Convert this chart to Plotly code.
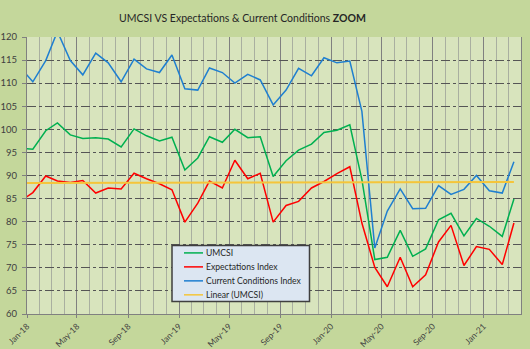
import plotly.graph_objects as go
import pandas as pd

# ---------------- data ----------------
months = pd.period_range("2017-12", "2021-03", freq="M")

umcsi = [95.9,
         95.7, 99.7, 101.4, 98.8, 98.0, 98.2, 97.9, 96.2, 100.1, 98.6, 97.5, 98.3,
         91.2, 93.8, 98.4, 97.2, 100.0, 98.2, 98.4, 89.8, 93.2, 95.5, 96.8, 99.3,
         99.8, 101.0, 89.1, 71.8, 72.3, 78.1, 72.5, 74.1, 80.4, 81.8, 76.9, 80.7,
         79.0, 76.8, 84.9]

expectations = [84.4,
                86.3, 89.9, 88.8, 88.5, 88.9, 86.2, 87.3, 87.1, 90.5, 89.3, 88.2, 86.9,
                79.9, 84.0, 88.8, 87.3, 93.3, 89.3, 90.5, 79.9, 83.5, 84.4, 87.3, 88.7,
                90.4, 91.9, 79.7, 70.1, 65.9, 72.3, 65.9, 68.5, 75.6, 79.2, 70.5, 74.6,
                74.0, 70.7, 79.7]

current = [113.5,
           110.3, 114.9, 121.2, 114.9, 111.8, 116.5, 114.4, 110.3, 115.2, 113.1, 112.3, 116.1,
           108.8, 108.5, 113.3, 112.3, 110.0, 111.9, 110.7, 105.3, 108.5, 113.2, 111.6, 115.5,
           114.4, 114.8, 103.9, 74.3, 82.3, 87.1, 82.8, 82.9, 87.8, 85.9, 87.0, 90.0,
           86.7, 86.2, 93.0]

trend_umcsi = [88.35, 88.6]

names = ["UMCSI", "Expectations Index", "Current Conditions Index", "Linear (UMCSI)"]
colors = ["#00B050", "#FF0000", "#1F7FD0", "#F5C53A"]

# ---------------- figure ----------------
W, H = 530, 349
L, R, T, B = 27, 521, 37, 314.5
FONT = "Lato"

x = months.to_timestamp() + pd.Timedelta(days=14)

fig = go.Figure()
fig.add_trace(go.Scatter(x=x, y=umcsi, mode="lines", name=names[0],
                         line=dict(color=colors[0], width=1.5), showlegend=False))
fig.add_trace(go.Scatter(x=x, y=expectations, mode="lines", name=names[1],
                         line=dict(color=colors[1], width=1.5), showlegend=False))
fig.add_trace(go.Scatter(x=x, y=current, mode="lines", name=names[2],
                         line=dict(color=colors[2], width=1.5), showlegend=False))
fig.add_trace(go.Scatter(x=[x[0], x[-1]], y=trend_umcsi, mode="lines", name=names[3],
                         line=dict(color=colors[3], width=2), showlegend=False))


def px_x(p):
    return (p - L) / (R - L)


def px_y(p):
    return (B - p) / (B - T)


shapes = [dict(type="rect", xref="paper", yref="paper",
               x0=px_x(172), x1=px_x(309.5), y0=px_y(302), y1=px_y(246),
               fillcolor="#DCE6F2", line=dict(color="#3F3F3F", width=1.5), layer="above")]
annotations = []
row_y = [253.3, 267.3, 281.3, 295.3]
for name, col, ry in zip(names, colors, row_y):
    shapes.append(dict(type="line", xref="paper", yref="paper",
                       x0=px_x(184), x1=px_x(203), y0=px_y(ry), y1=px_y(ry),
                       line=dict(color=col, width=1.5), layer="above"))
    annotations.append(dict(xref="paper", yref="paper", x=px_x(203.5), y=px_y(ry),
                            text=name, showarrow=False, xanchor="left", yanchor="middle",
                            font=dict(family=FONT, size=8.6, color="#262626")))

fig.update_layout(
    width=W, height=H,
    margin=dict(l=L, r=W - R, t=T, b=H - B, pad=0, autoexpand=False),
    paper_bgcolor="#C4D79B",
    plot_bgcolor="#D8E4BD",
    title=dict(text="UMCSI VS Expectations & Current Conditions <b>ZOOM</b>",
               x=242.5 / W, xanchor="center", xref="container",
               y=1 - 18.5 / H, yanchor="middle", yref="container",
               font=dict(family=FONT, size=10.5, color="#262626")),
    shapes=shapes,
    annotations=annotations,
    xaxis=dict(range=["2018-01-01", "2021-04-01"], type="date", automargin=False,
               tickformat="%b-%y", dtick="M4", tick0="2018-01-01",
               tickangle=-45, ticks="outside", ticklen=3, tickcolor="#808080",
               showgrid=True, gridcolor="#808080", gridwidth=1,
               minor=dict(dtick="M1", tick0="2018-01-01", showgrid=True,
                          gridcolor="#A9AFA0", gridwidth=1),
               showline=True, linecolor="#808080", linewidth=1,
               tickfont=dict(family=FONT, size=8.5, color="#404040"),
               zeroline=False),
    yaxis=dict(range=[60, 120], dtick=5, tick0=60, automargin=False,
               showgrid=True, gridcolor="#555555", gridwidth=1, griddash="dashdot",
               ticks="outside", ticklen=4, tickcolor="#808080",
               ticklabelstandoff=3,
               showline=True, mirror=True, linecolor="#808080", linewidth=1,
               tickfont=dict(family=FONT, size=9.5, color="#404040"),
               zeroline=False),
)

fig.write_html("out.html")
